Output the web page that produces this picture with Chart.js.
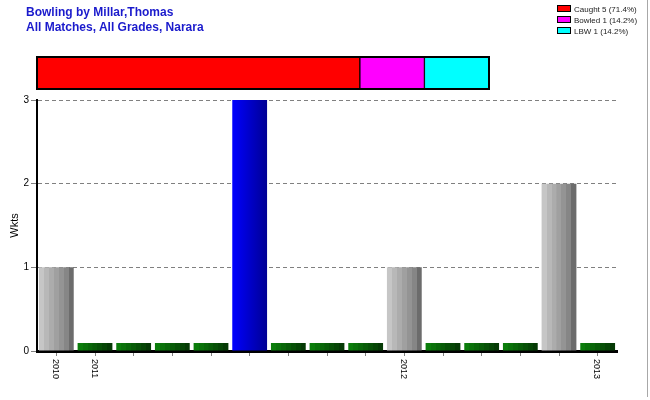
<!DOCTYPE html>
<html>
<head>
<meta charset="utf-8">
<script src="https://cdn.jsdelivr.net/npm/chart.js"></script>
<style>
    body { margin: 0; background: #fff; }
    #wrap { position: relative; width: 650px; height: 400px; background: #fff; font-family: "Liberation Sans", Arial, sans-serif; }
    #mainChart { position: absolute; left: 0; top: 0; }
    #outChart { position: absolute; left: 35px; top: 55px; }
    .title { position: absolute; left: 26px; color: #1a1acc; font-weight: bold; font-size: 12px; white-space: nowrap; }
    .leg { position: absolute; left: 557px; font-size: 8px; color: #222; white-space: nowrap; line-height: 11px; }
    .leg span { display: inline-block; width: 12px; height: 5px; border: 1px solid #000; margin-right: 3px; vertical-align: 0px; }
    #edge { position: absolute; left: 647px; top: 0; width: 1px; height: 397px; background: #a8a8a8; }
</style>
</head>
<body>
<div id="wrap">
    <canvas id="mainChart" width="650" height="400"></canvas>
    <canvas id="outChart" width="456" height="36"></canvas>
    <div class="title" style="top:5px">Bowling by Millar,Thomas</div>
    <div class="title" style="top:20px">All Matches, All Grades, Narara</div>
    <div id="legend"></div>
    <div id="edge"></div>
</div>
<script>
// wickets per match, labels only where a season starts
var matchLabels = ["2010", "2011", "", "", "", "", "", "", "", "2012", "", "", "", "", "2013"];
var wickets = [1, 0, 0, 0, 0, 3, 0, 0, 0, 1, 0, 0, 0, 2, 0];
var yMax = 3;

// how the wickets were taken
var outNames = ["Caught", "Bowled", "LBW"];
var outCounts = [5, 1, 1];
var outPct = ["71.4", "14.2", "14.2"];

var outColors = ["#ff0000", "#ff00ff", "#00ffff"];
var greyCols = ["#c6c6c6", "#b8b8b8", "#acacac", "#a0a0a0", "#949494", "#868686", "#6c6c6c"];
var greenCols = ["#0b7d0b", "#0a720a", "#096709", "#085c08", "#075107", "#064606", "#053a05"];

// stripey gradient across one bar
stripes = function (c2d, x0, x1, cols) {
    var g = c2d.createLinearGradient(x0, 0, x1, 0);
    var n = cols.length;
    for (var k = 0; k < n; k++) {
        g.addColorStop(k / n, cols[k]);
        g.addColorStop((k + 1) / n - 0.001, cols[k]);
    }
    return g;
}

barColor = function (context) {
    var chart = context.chart;
    var xs = chart.scales.x;
    if (context.type !== 'data' || !xs || !chart.chartArea) return '#999';
    var v = context.raw;
    var c = xs.getPixelForValue(context.dataIndex);
    var half = xs.width / wickets.length * 0.9 / 2;
    var c2d = chart.ctx;
    if (v === 0) return stripes(c2d, c - half, c + half, greenCols);
    if (v === Math.max.apply(null, wickets)) {
        var g = c2d.createLinearGradient(c - half, 0, c + half, 0);
        g.addColorStop(0, '#0000ff');
        g.addColorStop(1, '#000094');
        return g;
    }
    return stripes(c2d, c - half, c + half, greyCols);
}

// x labels read top to bottom, so draw them turned clockwise
var xLabelPlugin = {
    id: 'xLabels',
    afterDraw: function (chart) {
        var xs = chart.scales.x;
        var c2d = chart.ctx;
        c2d.save();
        c2d.font = '9px "Liberation Sans", Arial';
        c2d.fillStyle = '#000';
        c2d.textAlign = 'left';
        c2d.textBaseline = 'middle';
        for (var i = 0; i < matchLabels.length; i++) {
            if (!matchLabels[i]) continue;
            c2d.save();
            c2d.translate(xs.getPixelForTick(i) - 1, xs.top + 8);
            c2d.rotate(Math.PI / 2);
            c2d.fillText(matchLabels[i], 0, 0);
            c2d.restore();
        }
        c2d.restore();
    }
}

new Chart("mainChart", {
    type: "bar",
    data: {
        labels: matchLabels,
        datasets: [{
            data: wickets,
            backgroundColor: barColor,
            borderWidth: 0,
            minBarLength: 8,
            barPercentage: 0.9,
            categoryPercentage: 1
        }]
    },
    options: {
        responsive: false,
        animation: false,
        layout: { padding: { top: 100, left: 0, right: 33, bottom: 0 } },
        plugins: { legend: { display: false }, tooltip: { enabled: false } },
        scales: {
            x: {
                afterFit: function (s) { s.height = 49; },
                ticks: { display: false, autoSkip: false },
                grid: { offset: false, drawOnChartArea: false, drawTicks: true, tickLength: 5, tickColor: '#808080' },
                border: { color: '#000', width: 3 }
            },
            y: {
                min: 0,
                max: yMax,
                afterFit: function (s) { s.width = 37; },
                ticks: { stepSize: 1, color: '#000', padding: 2, font: { size: 10, family: '"Liberation Sans", Arial' } },
                grid: {
                    color: function (c) { return c.tick && c.tick.value === 0 ? 'rgba(0,0,0,0)' : '#808080'; },
                    tickColor: '#808080',
                    tickLength: 6,
                    tickBorderDash: []
                },
                border: { color: '#000', width: 2, dash: [4, 3] },
                title: {
                    display: true,
                    text: 'Wkts',
                    color: '#000',
                    padding: { top: 8, bottom: 0 },
                    font: { size: 11, family: '"Liberation Sans", Arial' }
                }
            }
        }
    },
    plugins: [xLabelPlugin]
});

// outline round the dismissal bar
var framePlugin = {
    id: 'frame',
    afterDraw: function (chart) {
        var a = chart.chartArea;
        var c2d = chart.ctx;
        c2d.save();
        c2d.strokeStyle = '#000';
        c2d.lineWidth = 2;
        c2d.strokeRect(a.left, a.top, a.right - a.left, a.bottom - a.top);
        c2d.restore();
    }
}

var total = outCounts.reduce(function (s, v) { return s + v; }, 0);
new Chart("outChart", {
    type: "bar",
    data: {
        labels: ["out"],
        datasets: outNames.map(function (name, i) {
            return {
                label: name,
                data: [outCounts[i]],
                backgroundColor: outColors[i],
                borderColor: '#000',
                borderWidth: 1,
                borderSkipped: false,
                barPercentage: 1,
                categoryPercentage: 1
            };
        })
    },
    options: {
        indexAxis: 'y',
        responsive: false,
        animation: false,
        layout: { padding: 2 },
        plugins: { legend: { display: false }, tooltip: { enabled: false } },
        scales: {
            x: { stacked: true, display: false, min: 0, max: total },
            y: { stacked: true, display: false }
        }
    },
    plugins: [framePlugin]
});

// legend top right
var legend = document.getElementById('legend');
outNames.forEach(function (name, i) {
    var d = document.createElement('div');
    d.className = 'leg';
    d.style.top = (4 + 11 * i) + 'px';
    d.innerHTML = '<span style="background:' + outColors[i] + '"></span>' + name + ' ' + outCounts[i] + ' (' + outPct[i] + '%)';
    legend.appendChild(d);
});
</script>
</body>
</html>
